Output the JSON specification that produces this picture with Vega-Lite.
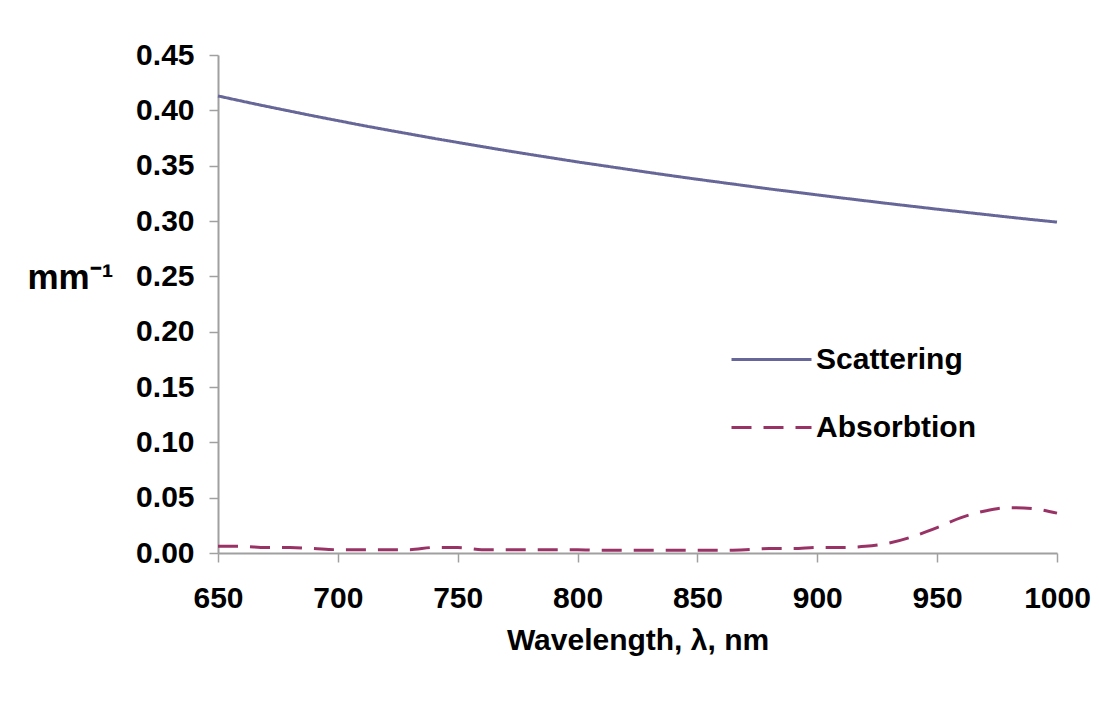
{
  "$schema": "https://vega.github.io/schema/vega-lite/v6.json",
  "width": 839,
  "height": 498,
  "autosize": {"type": "none"},
  "padding": {"left": 218, "top": 55, "right": 42, "bottom": 157},
  "background": "white",
  "config": {
    "view": {"stroke": null},
    "font": "Liberation Sans"
  },
  "data": {
    "values": [
      {"wl": 650, "Scattering": 0.4130, "Absorbtion": 0.006},
      {"wl": 660, "Scattering": 0.4083, "Absorbtion": 0.006},
      {"wl": 670, "Scattering": 0.4037, "Absorbtion": 0.005},
      {"wl": 680, "Scattering": 0.3993, "Absorbtion": 0.005},
      {"wl": 690, "Scattering": 0.3949, "Absorbtion": 0.004},
      {"wl": 700, "Scattering": 0.3907, "Absorbtion": 0.003},
      {"wl": 710, "Scattering": 0.3865, "Absorbtion": 0.003},
      {"wl": 720, "Scattering": 0.3825, "Absorbtion": 0.003},
      {"wl": 730, "Scattering": 0.3786, "Absorbtion": 0.003},
      {"wl": 740, "Scattering": 0.3747, "Absorbtion": 0.005},
      {"wl": 750, "Scattering": 0.3710, "Absorbtion": 0.005},
      {"wl": 760, "Scattering": 0.3673, "Absorbtion": 0.003},
      {"wl": 770, "Scattering": 0.3637, "Absorbtion": 0.003},
      {"wl": 780, "Scattering": 0.3602, "Absorbtion": 0.003},
      {"wl": 790, "Scattering": 0.3568, "Absorbtion": 0.003},
      {"wl": 800, "Scattering": 0.3534, "Absorbtion": 0.003},
      {"wl": 810, "Scattering": 0.3502, "Absorbtion": 0.0025},
      {"wl": 820, "Scattering": 0.3470, "Absorbtion": 0.0025},
      {"wl": 830, "Scattering": 0.3438, "Absorbtion": 0.0025},
      {"wl": 840, "Scattering": 0.3407, "Absorbtion": 0.0025},
      {"wl": 850, "Scattering": 0.3377, "Absorbtion": 0.0025},
      {"wl": 860, "Scattering": 0.3348, "Absorbtion": 0.0025},
      {"wl": 870, "Scattering": 0.3319, "Absorbtion": 0.003},
      {"wl": 880, "Scattering": 0.3290, "Absorbtion": 0.004},
      {"wl": 890, "Scattering": 0.3263, "Absorbtion": 0.004},
      {"wl": 900, "Scattering": 0.3236, "Absorbtion": 0.005},
      {"wl": 910, "Scattering": 0.3209, "Absorbtion": 0.005},
      {"wl": 920, "Scattering": 0.3183, "Absorbtion": 0.006},
      {"wl": 930, "Scattering": 0.3157, "Absorbtion": 0.009},
      {"wl": 940, "Scattering": 0.3132, "Absorbtion": 0.015},
      {"wl": 950, "Scattering": 0.3107, "Absorbtion": 0.023},
      {"wl": 960, "Scattering": 0.3083, "Absorbtion": 0.032},
      {"wl": 970, "Scattering": 0.3059, "Absorbtion": 0.038},
      {"wl": 980, "Scattering": 0.3035, "Absorbtion": 0.041},
      {"wl": 990, "Scattering": 0.3012, "Absorbtion": 0.040},
      {"wl": 1000, "Scattering": 0.2990, "Absorbtion": 0.036}
    ]
  },
  "transform": [{"fold": ["Scattering", "Absorbtion"], "as": ["series", "value"]}],
  "mark": {"type": "line", "interpolate": "monotone", "strokeWidth": 3},
  "encoding": {
    "x": {
      "field": "wl", "type": "quantitative",
      "scale": {"domain": [650, 1000], "nice": false},
      "axis": {
        "title": "Wavelength, λ, nm",
        "values": [650, 700, 750, 800, 850, 900, 950, 1000],
        "format": "d",
        "grid": false,
        "domainColor": "#a0a0a0", "domainWidth": 2,
        "tickColor": "#a0a0a0", "tickWidth": 1.5, "tickSize": 9,
        "labelFont": "Liberation Sans", "labelFontWeight": "bold", "labelFontSize": 30, "labelColor": "black",
        "labelPadding": 21, "labelFlush": false,
        "titleFont": "Liberation Sans", "titleFontWeight": "bold", "titleFontSize": 30, "titleColor": "black",
        "titlePadding": 12
      }
    },
    "y": {
      "field": "value", "type": "quantitative",
      "scale": {"domain": [0, 0.45], "nice": false},
      "axis": {
        "title": "mm⁻¹",
        "values": [0, 0.05, 0.1, 0.15, 0.2, 0.25, 0.3, 0.35, 0.4, 0.45],
        "format": ".2f",
        "grid": false,
        "domainColor": "#a0a0a0", "domainWidth": 2,
        "tickColor": "#a0a0a0", "tickWidth": 1.5, "tickSize": 9,
        "labelFont": "Liberation Sans", "labelFontWeight": "bold", "labelFontSize": 30, "labelColor": "black",
        "labelPadding": 15,
        "titleFont": "Liberation Sans", "titleFontWeight": "bold", "titleFontSize": 35, "titleColor": "black",
        "titleAngle": 0, "titleAlign": "left", "titleBaseline": "middle",
        "titleX": -191, "titleY": 222
      }
    },
    "color": {
      "field": "series", "type": "nominal",
      "scale": {"domain": ["Scattering", "Absorbtion"], "range": ["#666699", "#993366"]},
      "legend": {
        "title": null,
        "orient": "none", "legendX": 512, "legendY": 263,
        "symbolType": "stroke", "symbolSize": 6400, "symbolStrokeWidth": 3,
        "labelFont": "Liberation Sans", "labelFontWeight": "bold", "labelFontSize": 30, "labelColor": "black",
        "labelOffset": 3, "rowPadding": 11
      }
    },
    "strokeDash": {
      "field": "series", "type": "nominal",
      "scale": {"domain": ["Scattering", "Absorbtion"], "range": [[1, 0], [20, 12]]},
      "legend": {
        "title": null,
        "orient": "none", "legendX": 512, "legendY": 263,
        "symbolType": "stroke", "symbolSize": 6400, "symbolStrokeWidth": 3,
        "labelFont": "Liberation Sans", "labelFontWeight": "bold", "labelFontSize": 30, "labelColor": "black",
        "labelOffset": 3, "rowPadding": 11
      }
    }
  }
}
